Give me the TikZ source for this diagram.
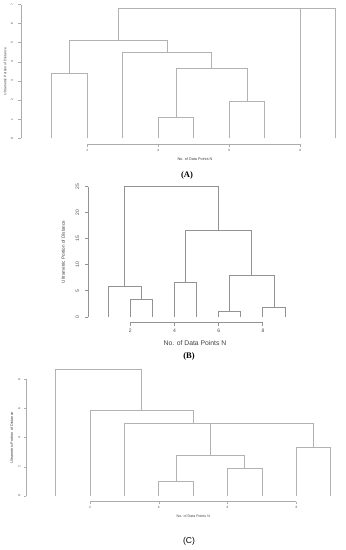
\documentclass[tikz,border=0pt]{standalone}
\usepackage{fontspec}
\setmainfont{Liberation Sans}
\newfontfamily\capserif{Liberation Serif}
\usetikzlibrary{positioning}

\begin{document}
\begin{tikzpicture}[
    x=1pt,y=1pt,
    link/.style={draw=gray!60,line width=0.75pt},
    linkdark/.style={draw=gray!85,line width=0.9pt},
    axisline/.style={draw=gray!65,line width=0.6pt},
    ticklab/.style={inner sep=0pt,text=black!70},
    axlab/.style={inner sep=0pt,text=black!75},
    panelcap/.style={inner sep=0pt,font=\capserif\bfseries\fontsize{8.5}{9}\selectfont}
  ]
    \useasboundingbox (0,0) rectangle (346,550);

    % (A)
    \begin{scope}[shift={(16.3pt,411.7pt)},x=35.5pt,y=19.1pt]
      \draw[link] (1,0) |- (2,3.40) -- (2,0);
      \draw[link] (4,0) |- (5,1.08) -- (5,0);
      \draw[link] (6,0) |- (7,1.92) -- (7,0);
      \draw[link] (4.5,1.08) |- (6.5,3.66) -- (6.5,1.92);
      \draw[link] (3,0) |- (5.5,4.50) -- (5.5,3.66);
      \draw[link] (1.5,3.40) |- (4.25,5.13) -- (4.25,4.50);
      \draw[link] (8,0) |- (9,6.80) -- (9,0);
      \draw[link] (2.875,5.13) |- (8.5,6.82) -- (8.5,6.80);
      % axes
      \draw[axisline] (0.132,0) -- (0.132,7);
      \foreach \t in {0,...,7}{
        \draw[axisline] (0.132,\t) -- (0.056,\t);
        \node[ticklab,rotate=90,font=\fontsize{3.2}{3.5}\selectfont] at (-0.121,\t) {\t};
      }
      \draw[axisline] (2,-0.30) -- (8,-0.30);
      \foreach \t in {2,4,6,8}{
        \draw[axisline] (\t,-0.30) -- (\t,-0.43);
        \node[ticklab,font=\fontsize{3.2}{3.5}\selectfont] at (\t,-0.65) {\t};
      }
      \node[axlab,rotate=90,font=\fontsize{3.5}{4}\selectfont] (ylabA) at (-0.318,3.5) {Ultrametric Portion of Distance};
    \end{scope}
    \node[axlab,font=\fontsize{3.8}{4}\selectfont] (xlabA) at (195,391) {No. of Data Points N};
    \node[panelcap] (capA) at (187,375) {(A)};

    % (B)
    \begin{scope}[shift={(86.1pt,233pt)},x=22.1pt,y=5.21pt]
      \draw[linkdark] (2,0) |- (3,3.4) -- (3,0);
      \draw[linkdark] (1,0) |- (2.5,5.9) -- (2.5,3.4);
      \draw[linkdark] (4,0) |- (5,6.7) -- (5,0);
      \draw[linkdark] (6,0) |- (7,1.0) -- (7,0);
      \draw[linkdark] (8,0) |- (9,1.9) -- (9,0);
      \draw[linkdark] (6.5,1.0) |- (8.5,8.0) -- (8.5,1.9);
      \draw[linkdark] (4.5,6.7) |- (7.5,16.7) -- (7.5,8.0);
      \draw[linkdark] (1.75,5.9) |- (6,25) -- (6,16.7);
      % axes
      \draw[linkdark] (0.1,0) -- (0.1,25);
      \foreach \t in {0,5,...,25}{
        \draw[linkdark] (0.1,\t) -- (-0.036,\t);
        \node[ticklab,rotate=90,font=\fontsize{5}{5.5}\selectfont] at (-0.398,\t) {\t};
      }
      \draw[linkdark] (2,-1.09) -- (8,-1.09);
      \foreach \t in {2,4,6,8}{
        \draw[linkdark] (\t,-1.09) -- (\t,-1.67);
        \node[ticklab,font=\fontsize{5}{5.5}\selectfont] at (\t,-2.63) {\t};
      }
      \node[axlab,rotate=90,font=\fontsize{4.6}{5}\selectfont] (ylabB) at (-1.03,12.5) {Ultrametric Portion of Distance};
    \end{scope}
    \node[axlab,font=\fontsize{6.8}{7}\selectfont] (xlabB) at (195,207.3) {No. of Data Points N};
    \node[panelcap] (capB) at (189,193.3) {(B)};

    % (C)
    \begin{scope}[shift={(21.2pt,54pt)},x=34.4pt,y=14.58pt]
      \draw[link] (4,0) |- (5,1.03) -- (5,0);
      \draw[link] (6,0) |- (7,1.87) -- (7,0);
      \draw[link] (4.5,1.03) |- (6.5,2.81) -- (6.5,1.87);
      \draw[link] (8,0) |- (9,3.31) -- (9,0);
      \draw[link] (5.5,2.81) |- (8.5,4.98) -- (8.5,3.31);
      \draw[link] (3,0) |- (7,4.98);
      \draw[link] (2,0) |- (5,5.90) -- (5,4.98);
      \draw[link] (1,0) |- (3.5,8.69) -- (3.5,5.90);
      % axes
      \draw[axisline] (0.14,0) -- (0.14,8);
      \foreach \t in {0,2,...,8}{
        \draw[axisline] (0.14,\t) -- (0.067,\t);
        \node[ticklab,rotate=90,font=\fontsize{3.2}{3.5}\selectfont] at (-0.055,\t) {\t};
      }
      \draw[axisline] (2,-0.39) -- (8,-0.39);
      \foreach \t in {2,4,6,8}{
        \draw[axisline] (\t,-0.39) -- (\t,-0.56);
        \node[ticklab,font=\fontsize{3.2}{3.5}\selectfont] at (\t,-0.80) {\t};
      }
      \node[axlab,rotate=90,font=\fontsize{3.8}{4}\selectfont] (ylabC) at (-0.276,4) {Ultrametric Portion of Distance};
    \end{scope}
    \node[axlab,font=\fontsize{3.6}{4}\selectfont] (xlabC) at (193.3,33.3) {No. of Data Points N};
    \node[inner sep=0pt,font=\fontsize{8.5}{9}\selectfont] (capC) at (189,8.3) {(C)};
  \end{tikzpicture}
\end{document}
